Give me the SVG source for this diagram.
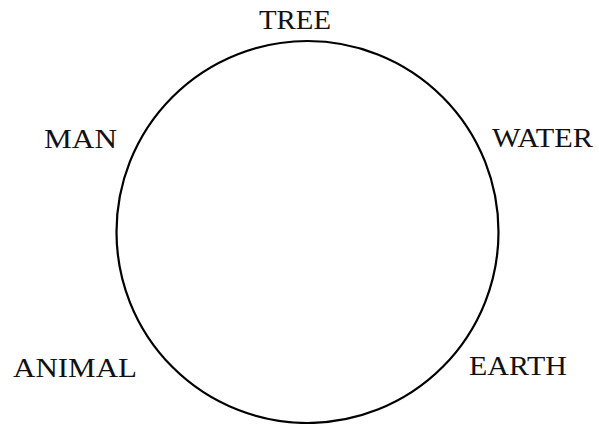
<svg xmlns="http://www.w3.org/2000/svg" width="599" height="424" viewBox="0 0 599 424">
<style>
.lbl{font-family:"Liberation Serif","Times New Roman",serif;font-size:28px;fill:#111}
.ring{fill:none;stroke:#000;stroke-width:2.2}
</style>
<rect width="599" height="424" fill="#fff"/>
<g id="connectors">
<circle class="ring" cx="307.5" cy="232" r="191"/>
</g>
<g id="tree"><text class="lbl" x="259" y="29" textLength="72" lengthAdjust="spacingAndGlyphs">TREE</text></g>
<g id="water"><text class="lbl" x="492" y="147" textLength="101" lengthAdjust="spacingAndGlyphs">WATER</text></g>
<g id="earth"><text class="lbl" x="469" y="375" textLength="98" lengthAdjust="spacingAndGlyphs">EARTH</text></g>
<g id="animal"><text class="lbl" x="13" y="377" textLength="124" lengthAdjust="spacingAndGlyphs">ANIMAL</text></g>
<g id="man"><text class="lbl" x="44" y="148" textLength="73" lengthAdjust="spacingAndGlyphs">MAN</text></g>
</svg>
